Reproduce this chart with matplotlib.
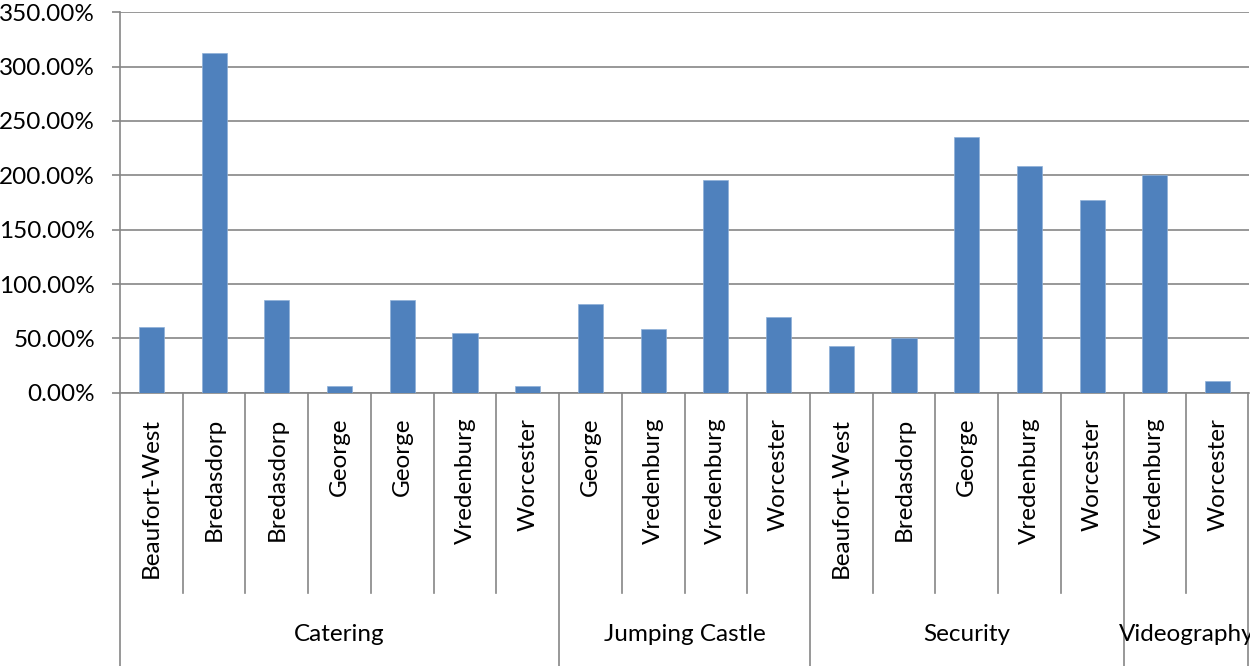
import matplotlib
matplotlib.use("Agg")
import matplotlib.pyplot as plt
from matplotlib.ticker import FuncFormatter
from matplotlib.lines import Line2D

# Service groups and the towns listed under each
services = ["Catering", "Jumping Castle", "Security", "Videography"]
catering_towns = ["Beaufort-West", "Bredasdorp", "Bredasdorp", "George", "George", "Vredenburg", "Worcester"]
jumping_towns = ["George", "Vredenburg", "Vredenburg", "Worcester"]
security_towns = ["Beaufort-West", "Bredasdorp", "George", "Vredenburg", "Worcester"]
video_towns = ["Vredenburg", "Worcester"]

# Percentage values per town (in %)
catering_pct = [60.7, 312.8, 85.3, 5.9, 85.3, 54.6, 5.9]
jumping_pct = [81.6, 58.3, 195.7, 69.9]
security_pct = [42.7, 50.3, 235.6, 208.3, 177.0]
video_pct = [200.0, 10.5]

y_ticks = [0, 50, 100, 150, 200, 250, 300, 350]

groups_towns = [catering_towns, jumping_towns, security_towns, video_towns]
groups_pct = [catering_pct, jumping_pct, security_pct, video_pct]

labels = [t for g in groups_towns for t in g]
values = [v for g in groups_pct for v in g]
xs = list(range(len(values)))

FONT = "Lato"
plt.rcParams["font.family"] = [FONT, "DejaVu Sans"]
GRID = "#868686"
BAR = "#4F81BD"
FS = 17.5
LW = 1.2

fig = plt.figure(figsize=(12.5, 6.66), dpi=100)
ax = fig.add_axes([120 / 1250, 1 - 392.7 / 666, (1249 - 120) / 1250, (392.7 - 12.3) / 666])

ax.bar(xs, values, width=0.4, color=BAR, edgecolor="#8fb0d8", linewidth=0.5, zorder=3)

ax.set_xlim(-0.5, len(values) - 0.5)
ax.set_ylim(y_ticks[0], y_ticks[-1])
ax.set_yticks(y_ticks)
ax.yaxis.set_major_formatter(FuncFormatter(lambda v, _: f"{v:.2f}%"))
ax.tick_params(axis="y", length=6, width=LW, color=GRID, pad=12, labelsize=FS)
ax.set_xticks([])

ax.grid(axis="y", color=GRID, linewidth=LW, zorder=0)
ax.set_axisbelow(True)
for side in ("top", "right"):
    ax.spines[side].set_visible(False)
for side in ("left", "bottom"):
    ax.spines[side].set_color(GRID)
    ax.spines[side].set_linewidth(LW)

trans = ax.get_xaxis_transform()

# Town labels, rotated, hanging below the axis
for x, lab in zip(xs, labels):
    ax.text(x, -0.066, lab, rotation=90, ha="center", va="top",
            fontsize=FS, transform=trans, clip_on=False)

# Separators between towns and between service groups
bounds = [-0.5]
for g in groups_towns:
    bounds.append(bounds[-1] + len(g))
group_edges = set(bounds)
for k in range(len(values) + 1):
    xb = k - 0.5
    if k == len(values):
        xb -= 0.01
    y_end = -0.78 if (k - 0.5) in group_edges else -0.5266
    ax.add_line(Line2D([xb, xb], [0, y_end], transform=trans, color=GRID,
                       linewidth=LW, clip_on=False))

# Service group labels
for i, name in enumerate(services):
    xc = (bounds[i] + bounds[i + 1]) / 2
    ax.text(xc, -0.636, name, ha="center", va="center", fontsize=FS,
            transform=trans, clip_on=False)

fig.savefig("out.png", dpi=100)
